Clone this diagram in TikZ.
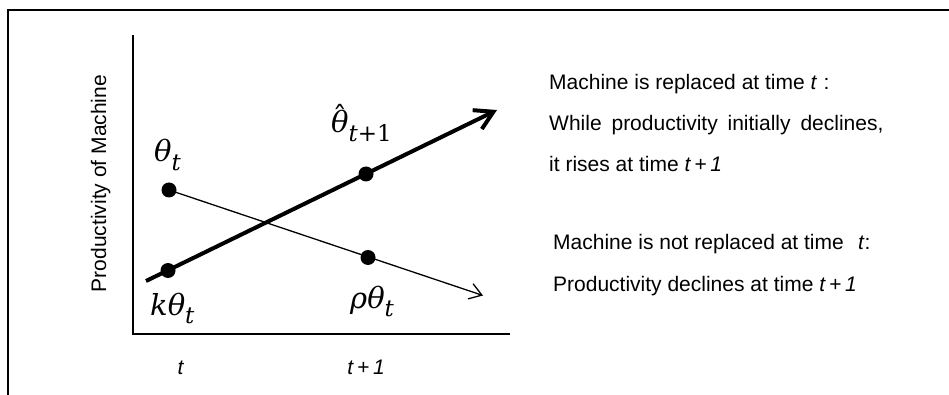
\RequirePackage{fix-cm}
\documentclass[tikz,border=0pt]{standalone}
\usepackage{fontspec}
\setmainfont{Liberation Sans}
\newfontfamily\labelfont{DejaVu Serif}
\usetikzlibrary{arrows.meta}

% italic label letters, hat and lowered subscripts
\newcommand{\lsym}[1]{{\labelfont\itshape #1}}
\newcommand{\lhat}[1]{\ooalign{#1\cr\hidewidth\raisebox{0.2em}{\labelfont ˆ}\hidewidth\cr}}
\newcommand{\lsub}[1]{\raisebox{-0.3em}{\fontsize{23}{26}\selectfont\labelfont\itshape #1}}

\tikzset{
  dot/.style={circle, fill=black, inner sep=0pt, minimum size=15pt},
  mathlabel/.style={font=\fontsize{29}{34}\selectfont, inner sep=0pt, anchor=base west},
  desc/.style={font=\fontsize{21}{25}\selectfont, inner sep=0pt, anchor=base west},
  ticklabel/.style={font=\fontsize{21}{25}\selectfont, inner sep=0pt, anchor=base},
  riseline/.style={line width=4pt, -{Straight Barb[length=18pt, width=21pt]}},
  fallline/.style={line width=1.3pt, -{Straight Barb[length=12pt, width=16pt]}},
}

\begin{document}
\begin{tikzpicture}[x=1pt, y=-1pt]
  \useasboundingbox (0,0) rectangle (949,395);
  % --- frame (cut at right and bottom) ---
  \draw[line width=2pt] (8,395) -- (8,10) -- (949,10);

  % --- axes ---
  \coordinate (ytop) at (133,35);
  \coordinate (origin) at (133,334);
  \coordinate (xend) at (510,334);
  \draw[line width=2pt] (ytop) -- (origin) -- (xend);
  \node[font=\fontsize{21}{25}\selectfont, inner sep=0pt, anchor=base, rotate=90]
    (ylabel) at (106,183.5) {Productivity of Machine};
  \node[ticklabel] (tnow) at (181,374) {\textit{t}};
  \node[ticklabel] (tnext) at (366,374) {\textit{t}\,+\,\textit{1}};

  % --- paths ---
  \coordinate (risetail) at (146,281);
  \coordinate (risehead) at (497,110);
  \coordinate (fallhead) at (483,295.5);
  \coordinate (fallstart) at (169,190);
  \draw[riseline] (risetail) -- (risehead);
  \draw[fallline] (fallstart) -- (fallhead);

  % --- points ---
  \node[dot] (thetadot) at (fallstart) {};
  \node[dot] (kdot) at (168,270.5) {};
  \node[dot] (hatdot) at (366,174) {};
  \node[dot] (rhodot) at (368,257.5) {};

  \node[mathlabel] (thetalab) at (154,162) {\lsym{θ}\lsub{t}};
  \node[mathlabel] (klab) at (150,315) {\lsym{kθ}\lsub{t}};
  \node[mathlabel] (hatlab) at (331,133) {\lhat{\lsym{θ}}\lsub{t{\upshape +1}}};
  \node[mathlabel] (rholab) at (350,308) {\lsym{ρθ}\lsub{t}};

  % --- explanations ---
  \node[desc] (rep1) at (549,90) {Machine is replaced at time \textit{t}\hspace{0.3em}:};
  \node[desc] (rep2) at (549,131) {\spaceskip=0.47em While productivity initially declines,};
  \node[desc] (rep3) at (549,172) {it rises at time \textit{t}\,+\,\textit{1}};
  \node[desc] (norep1) at (553,249) {Machine is not replaced at time\hspace{0.4em} \textit{t}:};
  \node[desc] (norep2) at (553,291) {Productivity declines at time \textit{t}\,+\,\textit{1}};
\end{tikzpicture}
\end{document}
